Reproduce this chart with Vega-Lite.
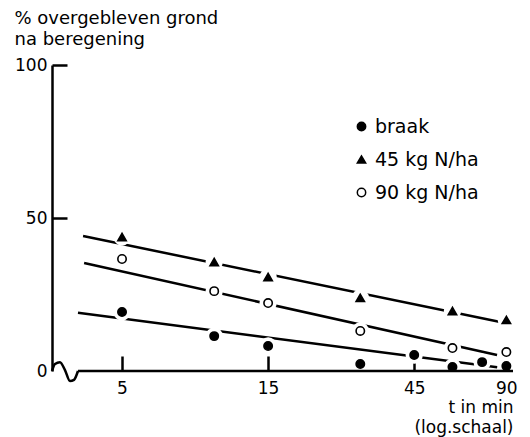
{
  "$schema": "https://vega.github.io/schema/vega-lite/v6.json",
  "autosize": "none",
  "width": 461,
  "height": 306,
  "padding": {"left": 52, "top": 65, "right": 17, "bottom": 66},
  "background": "white",
  "config": {
    "view": {"stroke": null},
    "font": "DejaVu Sans",
    "axis": {"zindex": 1}
  },
  "datasets": {
    "points": [
      {"series": "45 kg N/ha", "t": 5, "pct": 43.8},
      {"series": "45 kg N/ha", "t": 10, "pct": 35.6},
      {"series": "45 kg N/ha", "t": 15, "pct": 30.7},
      {"series": "45 kg N/ha", "t": 30, "pct": 23.9},
      {"series": "45 kg N/ha", "t": 60, "pct": 19.6},
      {"series": "45 kg N/ha", "t": 90, "pct": 16.7},
      {"series": "90 kg N/ha", "t": 5, "pct": 36.6},
      {"series": "90 kg N/ha", "t": 10, "pct": 26.1},
      {"series": "90 kg N/ha", "t": 15, "pct": 22.2},
      {"series": "90 kg N/ha", "t": 30, "pct": 13.1},
      {"series": "90 kg N/ha", "t": 60, "pct": 7.5},
      {"series": "90 kg N/ha", "t": 90, "pct": 6.2},
      {"series": "braak", "t": 5, "pct": 19.3},
      {"series": "braak", "t": 10, "pct": 11.4},
      {"series": "braak", "t": 15, "pct": 8.2},
      {"series": "braak", "t": 30, "pct": 2.3},
      {"series": "braak", "t": 45, "pct": 5.2},
      {"series": "braak", "t": 60, "pct": 1.3},
      {"series": "braak", "t": 75, "pct": 2.9},
      {"series": "braak", "t": 90, "pct": 1.6}
    ],
    "fits": [
      {"series": "45 kg N/ha", "t": 3.73, "pct": 44.1},
      {"series": "45 kg N/ha", "t": 86, "pct": 16.0},
      {"series": "90 kg N/ha", "t": 3.76, "pct": 35.3},
      {"series": "90 kg N/ha", "t": 83.9, "pct": 5.2},
      {"series": "braak", "t": 3.59, "pct": 19.0},
      {"series": "braak", "t": 84, "pct": 1.2}
    ],
    "axisbreak": [
      {"t": 2.953, "pct": 0},
      {"t": 3.02, "pct": 2.3},
      {"t": 3.136, "pct": 2.9},
      {"t": 3.256, "pct": 0.3},
      {"t": 3.381, "pct": -3.3},
      {"t": 3.484, "pct": -2.9},
      {"t": 3.59, "pct": 0}
    ]
  },
  "layer": [
    {
      "data": {"name": "fits"},
      "mark": {"type": "line", "color": "black", "strokeWidth": 2.5},
      "encoding": {
        "x": {
          "field": "t", "type": "quantitative",
          "scale": {"type": "log", "domain": [2.953, 94.6], "nice": false},
          "axis": {
            "values": [5, 15, 45, 90], "format": "d", "domain": false, "grid": false,
            "tickSize": -15, "tickWidth": 2.5, "tickColor": "black",
            "labelFontSize": 17, "labelColor": "black", "labelPadding": 24,
            "title": ["t in min", "(log.schaal)"],
            "titleFontSize": 17, "titleFontWeight": "normal", "titleColor": "black",
            "titleAlign": "right", "titleBaseline": "top", "titleLineHeight": 20,
            "titleX": 461, "titleY": 28
          }
        },
        "y": {
          "field": "pct", "type": "quantitative",
          "scale": {"domain": [0, 100], "nice": false},
          "axis": {
            "values": [0, 50, 100], "grid": false,
            "domain": true, "domainColor": "black", "domainWidth": 2.5,
            "tickSize": -15, "tickWidth": 2.5,
            "tickColor": {"condition": {"test": "datum.value === 0", "value": "transparent"}, "value": "black"},
            "labelFontSize": 17, "labelColor": "black", "labelPadding": 20,
            "title": ["% overgebleven grond", "na beregening"],
            "titleFontSize": 18, "titleFontWeight": "normal", "titleColor": "black",
            "titleAngle": 0, "titleAlign": "left", "titleBaseline": "top", "titleLineHeight": 21,
            "titleX": -38, "titleY": -56
          }
        },
        "detail": {"field": "series"}
      }
    },
    {
      "data": {"name": "points"},
      "mark": {"type": "point", "shape": "circle", "filled": true, "color": "white", "size": 300, "opacity": 1},
      "encoding": {
        "x": {"field": "t", "type": "quantitative"},
        "y": {"field": "pct", "type": "quantitative"}
      }
    },
    {
      "data": {"name": "points"},
      "mark": {"type": "point", "stroke": "black", "strokeWidth": 1.6, "opacity": 1},
      "encoding": {
        "x": {"field": "t", "type": "quantitative"},
        "y": {"field": "pct", "type": "quantitative"},
        "shape": {
          "field": "series", "type": "nominal",
          "scale": {"domain": ["braak", "45 kg N/ha", "90 kg N/ha"], "range": ["circle", "triangle-up", "circle"]},
          "legend": {
            "title": null, "orient": "none", "legendX": 300, "legendY": 52,
            "labelFontSize": 19, "labelColor": "black", "labelOffset": 4,
            "rowPadding": 13, "symbolSize": 70, "symbolStrokeWidth": 1.5, "padding": 0
          }
        },
        "fill": {
          "field": "series", "type": "nominal",
          "scale": {"domain": ["braak", "45 kg N/ha", "90 kg N/ha"], "range": ["black", "black", "white"]}
        },
        "size": {"value": 70}
      }
    },
    {
      "data": {"values": [{}]},
      "mark": {"type": "rule", "color": "black", "strokeWidth": 2.5},
      "encoding": {
        "x": {"datum": 3.59, "type": "quantitative"},
        "x2": {"datum": 94.6},
        "y": {"datum": 0, "type": "quantitative"}
      }
    },
    {
      "data": {"name": "axisbreak"},
      "mark": {"type": "line", "color": "black", "strokeWidth": 2.5, "interpolate": "monotone"},
      "encoding": {
        "x": {"field": "t", "type": "quantitative"},
        "y": {"field": "pct", "type": "quantitative"}
      }
    }
  ]
}
